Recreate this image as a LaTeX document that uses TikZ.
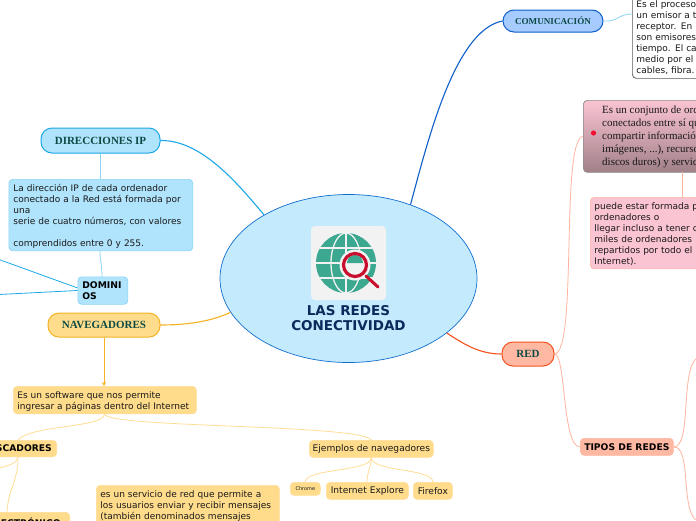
\documentclass[tikz,border=0pt]{standalone}
\usepackage{fontspec}
\setmainfont{DejaVu Sans}
\newfontfamily\titlefont{Liberation Serif}
\usetikzlibrary{shapes.geometric,arrows.meta}
\newcommand\topstrut{\rule{0pt}{12pt}}
\newcommand\botstrut{\rule[-4.5pt]{0pt}{4.5pt}}
\definecolor{bluedeep}{HTML}{0E5FC9}
\definecolor{bluefill}{HTML}{A5CBFF}
\definecolor{sky}{HTML}{1DA8E8}
\definecolor{skyfill}{HTML}{B0E3FC}
\definecolor{skyline}{HTML}{8BD4F5}
\definecolor{amber}{HTML}{F5B324}
\definecolor{amberfill}{HTML}{FFDC8C}
\definecolor{amberline}{HTML}{FFDD94}
\definecolor{coral}{HTML}{F4511E}
\definecolor{coralfill}{HTML}{FFB9A3}
\definecolor{coralline}{HTML}{FFB49E}
\definecolor{pinkfill}{HTML}{FBC4D3}
\definecolor{mauve}{HTML}{A08088}
\definecolor{titlegreen}{HTML}{0D4A44}
\definecolor{navy}{HTML}{0B2A5B}
\definecolor{teal}{HTML}{3BA88F}
\definecolor{redglass}{HTML}{C8102E}
\definecolor{reddot}{HTML}{F01030}
\tikzset{
  base/.style={anchor=north west,inner sep=0pt,rounded corners=4pt,line width=.7pt},
  topic/.style={anchor=center,inner sep=0pt,rounded corners=11pt,line width=1pt,
    font=\titlefont\bfseries\fontsize{11}{12}\selectfont,text=titlegreen},
  textbox/.style={base,align=left,font=\fontsize{9}{11}\selectfont,text=black!90},
  tag/.style={base,align=center,font=\fontsize{9.1}{11}\selectfont,text=black!90},
  boldtag/.style={base,align=center,font=\bfseries\fontsize{9.2}{11}\selectfont,text=black},
  amberbox/.style={fill=amberfill,draw=amberline},
  skybox/.style={fill=skyfill,draw=skyline},
  corbox/.style={fill=coralfill,draw=coralline},
  thin link/.style={line width=.8pt},
  thick link/.style={line width=1.1pt}
}
\begin{document}
\begin{tikzpicture}[x=1pt,y=-1pt]
\path[use as bounding box,clip] (0,0) rectangle (696,520);
\fill[white] (0,0) rectangle (696,520);

% centre
\node[ellipse,draw=bluedeep!80!sky,fill=skyfill!75!white,line width=.7pt,minimum width=257pt,minimum height=168pt,inner sep=0pt] (c) at (348.5,278.5) {};
\node[fill=black!5!white,rounded corners=4pt,minimum width=75pt,minimum height=74pt,inner sep=0pt] (icon) at (348.5,263) {};
\begin{scope}
  \fill[teal] (346,263) circle (30);
  \draw[black!5!white,line width=1.3pt] (346,233) -- (346,293);
  \draw[black!5!white,line width=1.3pt] (346,263) ellipse [x radius=15,y radius=30];
  \draw[black!5!white,line width=1.3pt] (316,263) -- (376,263);
  \draw[black!5!white,line width=1.3pt] (320,248) -- (372,248);
  \draw[black!5!white,line width=1.3pt] (320,278) -- (372,278);
  \fill[black!5!white] (355,265) circle (15.5);
  \draw[redglass,line width=3pt,line cap=round] (366,276) -- (378,287);
  \fill[black!5!white] (355,265) circle (10);
  \fill[teal] (347,263) -- (363,263) arc (0:-180:8) -- cycle;
  \draw[redglass,line width=3.2pt] (355,265) circle (11.5);
\end{scope}
\node[font=\bfseries\fontsize{13.5}{15}\selectfont,text=navy,align=center,inner sep=0pt] (ctitle) at (348.5,318.5) {LAS REDES\\CONECTIVIDAD};

% top right
\node[topic,fill=bluefill,draw=bluedeep,minimum width=100pt,minimum height=22pt,font=\titlefont\bfseries\fontsize{9.1}{10}\selectfont] (com) at (553,21) {COMUNICACIÓN};
\node[textbox,fill=white,draw=black!65,text width=90pt,inner xsep=4pt] (comtext) at (632,-4.5) {\topstrut Es el proceso\\un emisor a t\\receptor. En u\\son emisores\\tiempo. El car\\medio por el\\cables, fibra.\botstrut};
\node[base,shade,top color=pinkfill,bottom color=mauve,draw=black!45,minimum width=140pt,minimum height=72pt] (redbox) at (583,100) {};
\node[anchor=north west,align=left,inner sep=0pt,font=\titlefont\fontsize{11}{13}\selectfont,text=black!90] (redtext) at (602,106) {Es un conjunto de ord\\conectados entre sí qu\\compartir información\\imágenes, ...), recurso\\discos duros) y servici};
\fill[reddot] (593.5,133) circle (2.6);
\node[textbox,fill=pinkfill,draw=coralline,text width=130pt,inner xsep=4pt] (pink) at (590,197) {\topstrut puede estar formada p\\ordenadores o\\llegar incluso a tener c\\miles de ordenadores\\repartidos por todo el\\Internet).\botstrut};
\node[topic,fill=coralfill,draw=coral,minimum width=52pt,minimum height=24pt] (red) at (528,354) {RED};
\node[boldtag,corbox,minimum width=93pt,minimum height=17pt] (tipos) at (580,438) {TIPOS DE REDES};
\coordinate (tipoup) at (697,358);
\coordinate (tipodown) at (697,521);

% left
\node[topic,fill=skyfill,draw=sky,minimum width=119pt,minimum height=25pt] (dir) at (100.5,140.5) {DIRECCIONES IP};
\node[textbox,skybox,text width=175pt,inner xsep=4.5pt] (dirtext) at (8.5,179) {\topstrut La dirección IP de cada ordenador\\conectado a la Red está formada por\\una\\serie de cuatro números, con valores\\[11pt]comprendidos entre 0 y 255.\botstrut};
\node[boldtag,skybox,align=left,minimum height=27.5pt,text width=41pt,inner xsep=4.5pt] (dom) at (77.5,276.5) {DOMINI\\OS};
\coordinate (domA) at (-1,259.5);
\coordinate (domB) at (-1,294.5);
\node[topic,fill=amberfill,draw=amber,minimum width=112pt,minimum height=24pt] (nav) at (104,325) {NAVEGADORES};
\node[textbox,amberbox,text width=175pt,inner xsep=4pt] (navtext) at (13,386) {\topstrut Es un software que nos permite\\ingresar a páginas dentro del Internet\botstrut};
\node[boldtag,amberbox,minimum height=16.5pt,minimum width=80pt,anchor=north east] (busc) at (57,440) {BUSCADORES};
\node[boldtag,amberbox,minimum height=20pt,minimum width=90pt,anchor=north east,inner xsep=4pt] (correo) at (70,512) {ELECTRÓNICO};
\coordinate (buscleft) at (-1,468);
\node[textbox,amberbox,text width=175pt,inner xsep=4pt] (servicio) at (96,485) {\topstrut es un servicio de red que permite a\\los usuarios enviar y recibir mensajes\\(también denominados mensajes\botstrut};
\node[tag,amberbox,minimum width=124pt,minimum height=17pt] (ej) at (309,440) {Ejemplos de navegadores};
\node[tag,amberbox,minimum width=30pt,minimum height=13pt,font=\fontsize{5}{6}\selectfont] (chrome) at (290,482) {Chrome};
\node[tag,amberbox,minimum width=82pt,minimum height=17pt] (ie) at (326,482) {Internet Explore};
\node[tag,amberbox,minimum width=39pt,minimum height=17pt] (ff) at (413,482) {Firefox};

% connectors
\draw[bluedeep,thick link] (c.50) .. controls (428,140) and (455,30) .. (com.west);
\draw[skyline,thin link] (com.east) .. controls (618,22) and (618,14) .. (632,14);
\draw[sky,thick link] (c.143) .. controls (235,180) and (200,140) .. (dir.east);
\draw[skyline,thin link] (dir.south) -- (dirtext.north -| dir.south);
\draw[skyline,thin link] (100,251) .. controls (100,260) and (102,266) .. (102,276.5);
\draw[sky,thin link] (dom.174) -- (domA);
\draw[sky,thin link] (dom.west |- 0,290.5) -- (domB);
\draw[amber,thick link] (c.196) .. controls (210,322) and (185,325) .. (nav.east);
\draw[amber,line width=1pt,-{Stealth[length=4pt,width=4pt]}] (nav.south) -- (navtext.north -| nav.south);
\draw[amberline,thin link] (104.5,414) .. controls (104,428) and (30,425) .. (18,440);
\draw[amberline,thin link] (104.5,414) .. controls (106,428) and (360,424) .. (ej.north);
\draw[amberline,thin link] (ej.south) .. controls (371,472) and (306,468) .. (305,482);
\draw[amberline,thin link] (ej.south) .. controls (371,468) and (367,472) .. (367,482);
\draw[amberline,thin link] (ej.south) .. controls (372,472) and (432,468) .. (433,482);
\draw[amberline,thin link] (18,456.5) .. controls (19,478) and (8,490) .. (7,512);
\draw[amberline,thin link] (18,456.5) .. controls (18,463) and (8,466) .. (buscleft);
\draw[coral,thick link] (c.331) .. controls (465,345) and (480,354) .. (red.west);
\draw[coralline,thin link] (red.east) .. controls (578,352) and (560,140) .. (redbox.west);
\draw[coralline,thin link] (682,172) -- (682,197);
\draw[coralline,thin link] (red.east) .. controls (566,354) and (562,447) .. (tipos.west);
\draw[coralline,thin link] (tipos.east) .. controls (692,447) and (680,370) .. (tipoup);
\draw[coralline,thin link] (tipos.east) .. controls (692,447) and (680,510) .. (tipodown);
\end{tikzpicture}
\end{document}
